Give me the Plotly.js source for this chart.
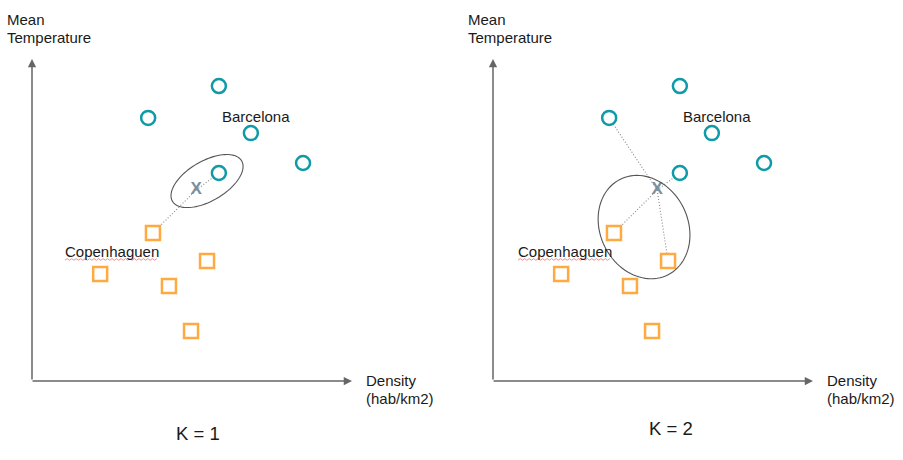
<!DOCTYPE html>
<html>
<head>
<meta charset="utf-8">
<script src="https://cdn.plot.ly/plotly-3.0.1.min.js"></script>
<style>html,body{margin:0;padding:0;background:#fff;}#chart{width:903px;height:460px;}</style>
</head>
<body>
<div id="chart"></div>
<script>
// ---- data (same city layout in both panels) ----
const circleX = [5.84, 3.63, 6.84, 8.47, 5.84];
const circleY = [9.16, 8.17, 7.70, 6.77, 6.46];
const squareX = [3.78, 5.47, 2.13, 4.28, 4.97];
const squareY = [4.60, 3.73, 3.32, 2.95, 1.55];
const queryX = [5.13];
const queryY = [5.93];
const panelTitles = ['K = 1', 'K = 2'];
const neighbourCircles = [[4], [1, 4]];
const neighbourSquares = [[0], [0, 1]];
const labelNames = ['Barcelona', 'Copenhaguen'];
const labelXK1 = [5.88, 0.97];
const labelXK2 = [5.88, 0.72];
const labelY = [8.20, 4.03];
const yAxisLabelLines = ['Mean', 'Temperature'];
const xAxisLabelLines = ['Density', '(hab/km2)'];

const TEAL = '#0e9aa7';
const ORANGE = '#ffaa40';
const AXC = '#666666';
const FONT = 'Liberation Sans, Arial, sans-serif';

function ellipsePath(cx, cy, a, b, angDeg) {
  const t0 = angDeg * Math.PI / 180;
  let p = '';
  for (let i = 0; i <= 96; i++) {
    const t = i / 96 * 2 * Math.PI;
    const x = cx + a * Math.cos(t) * Math.cos(t0) - b * Math.sin(t) * Math.sin(t0);
    const y = cy + a * Math.cos(t) * Math.sin(t0) + b * Math.sin(t) * Math.cos(t0);
    p += (i === 0 ? 'M ' : ' L ') + x.toFixed(4) + ',' + y.toFixed(4);
  }
  return p + ' Z';
}
function wavyPath(x0, x1, y, amp, step) {
  let p = 'M ' + x0 + ',' + y;
  let k = 0;
  for (let x = x0 + step; x <= x1 + 1e-9; x += step) {
    k++;
    p += ' L ' + x.toFixed(4) + ',' + (y + (k % 2 ? amp : 0)).toFixed(4);
  }
  return p;
}
const ellipses = [
  {cx: 5.47, cy: 6.21, a: 1.25, b: 0.62, ang: 30},
  {cx: 4.72, cy: 4.78, a: 1.66, b: 1.37, ang: 117}
];

const traces = [];
const shapes = [];
const annotations = [];
const layout = {
  width: 903, height: 460,
  margin: {l: 0, r: 0, t: 0, b: 0},
  paper_bgcolor: '#ffffff', plot_bgcolor: 'rgba(0,0,0,0)',
  showlegend: false,
  font: {family: FONT, color: '#1a1a1a', size: 15}
};
const xDomains = [[32 / 903, 352 / 903], [493 / 903, 813 / 903]];
const yDomain = [1 - 381 / 460, 1 - 59 / 460];
const titleCenters = [198 / 903, 671 / 903];
const titleY = [1 - 433 / 460, 1 - 428 / 460];

for (let p = 0; p < 2; p++) {
  const xa = p === 0 ? 'x' : 'x2';
  const ya = p === 0 ? 'y' : 'y2';
  const labelX = p === 0 ? labelXK1 : labelXK2;
  const axCommon = {range: [0, 10], showgrid: false, zeroline: false, showticklabels: false, showline: false, ticks: '', fixedrange: true};
  layout[p === 0 ? 'xaxis' : 'xaxis2'] = Object.assign({domain: xDomains[p], anchor: ya}, axCommon);
  layout[p === 0 ? 'yaxis' : 'yaxis2'] = Object.assign({domain: yDomain, anchor: xa}, axCommon);

  // dotted neighbour lines
  neighbourCircles[p].forEach(i => traces.push({
    type: 'scatter', mode: 'lines', xaxis: xa, yaxis: ya, hoverinfo: 'skip',
    x: [queryX[0], circleX[i]], y: [queryY[0], circleY[i]],
    line: {color: '#888888', width: 1.1, dash: '1px,2px'}
  }));
  neighbourSquares[p].forEach(i => traces.push({
    type: 'scatter', mode: 'lines', xaxis: xa, yaxis: ya, hoverinfo: 'skip',
    x: [queryX[0], squareX[i]], y: [queryY[0], squareY[i]],
    line: {color: '#888888', width: 1.1, dash: '1px,2px'}
  }));
  // cities
  traces.push({
    type: 'scatter', mode: 'markers', xaxis: xa, yaxis: ya,
    x: circleX, y: circleY,
    marker: {symbol: 'circle', size: 14, color: '#ffffff', line: {color: TEAL, width: 2.5}}
  });
  traces.push({
    type: 'scatter', mode: 'markers', xaxis: xa, yaxis: ya,
    x: squareX, y: squareY,
    marker: {symbol: 'square', size: 14, color: '#ffffff', line: {color: ORANGE, width: 2.5}}
  });
  // query point
  traces.push({
    type: 'scatter', mode: 'text', xaxis: xa, yaxis: ya,
    x: queryX, y: queryY, text: ['<b>X</b>'],
    textfont: {family: FONT, size: 17, color: '#7890a0'}
  });

  // ellipse
  const e = ellipses[p];
  shapes.push({type: 'path', xref: xa, yref: ya, path: ellipsePath(e.cx, e.cy, e.a, e.b, e.ang),
    line: {color: '#555555', width: 1.1}, fillcolor: 'rgba(0,0,0,0)'});
  // spell-check squiggle under Copenhaguen
  shapes.push({type: 'path', xref: xa, yref: ya, path: wavyPath(labelX[1] + 0.06, labelX[1] + 2.95, labelY[1] - 0.28, 0.05, 0.07),
    line: {color: '#ee8080', width: 0.9}});

  // axis arrows
  annotations.push({x: 10, y: 0, ax: -0.03, ay: 0, xref: xa, yref: ya, axref: xa, ayref: ya, text: '',
    showarrow: true, arrowhead: 2, arrowsize: 1.1, arrowwidth: 1.5, arrowcolor: AXC, standoff: 0});
  annotations.push({x: 0, y: 10, ax: 0, ay: 0, xref: xa, yref: ya, axref: xa, ayref: ya, text: '',
    showarrow: true, arrowhead: 2, arrowsize: 1.1, arrowwidth: 1.5, arrowcolor: AXC, standoff: 0});

  // city labels
  for (let k = 0; k < labelNames.length; k++) {
    annotations.push({x: labelX[k], y: labelY[k], xref: xa, yref: ya, text: labelNames[k],
      showarrow: false, xanchor: 'left', yanchor: 'middle', font: {size: 15, color: '#1a1a1a'}});
  }
  // axis labels (one annotation per line for tight line spacing)
  const offs = p * 461 / 903;
  const yLabTop = [20, 38];
  const xLabTop = [380, 398];
  for (let k = 0; k < 2; k++) {
    annotations.push({x: 5 / 903 + offs, y: 1 - yLabTop[k] / 460, xref: 'paper', yref: 'paper', text: yAxisLabelLines[k],
      showarrow: false, xanchor: 'left', yanchor: 'middle', align: 'left', font: {size: 15, color: '#1a1a1a'}});
    annotations.push({x: 364 / 903 + offs, y: 1 - xLabTop[k] / 460, xref: 'paper', yref: 'paper', text: xAxisLabelLines[k],
      showarrow: false, xanchor: 'left', yanchor: 'middle', align: 'left', font: {size: 15, color: '#1a1a1a'}});
  }
  // panel title
  annotations.push({x: titleCenters[p], y: titleY[p], xref: 'paper', yref: 'paper', text: panelTitles[p],
    showarrow: false, xanchor: 'center', yanchor: 'middle', font: {size: 18.5, color: '#1a1a1a'}});
}
layout.shapes = shapes;
layout.annotations = annotations;
Plotly.newPlot('chart', traces, layout, {staticPlot: true, displayModeBar: false});
</script>
</body>
</html>
